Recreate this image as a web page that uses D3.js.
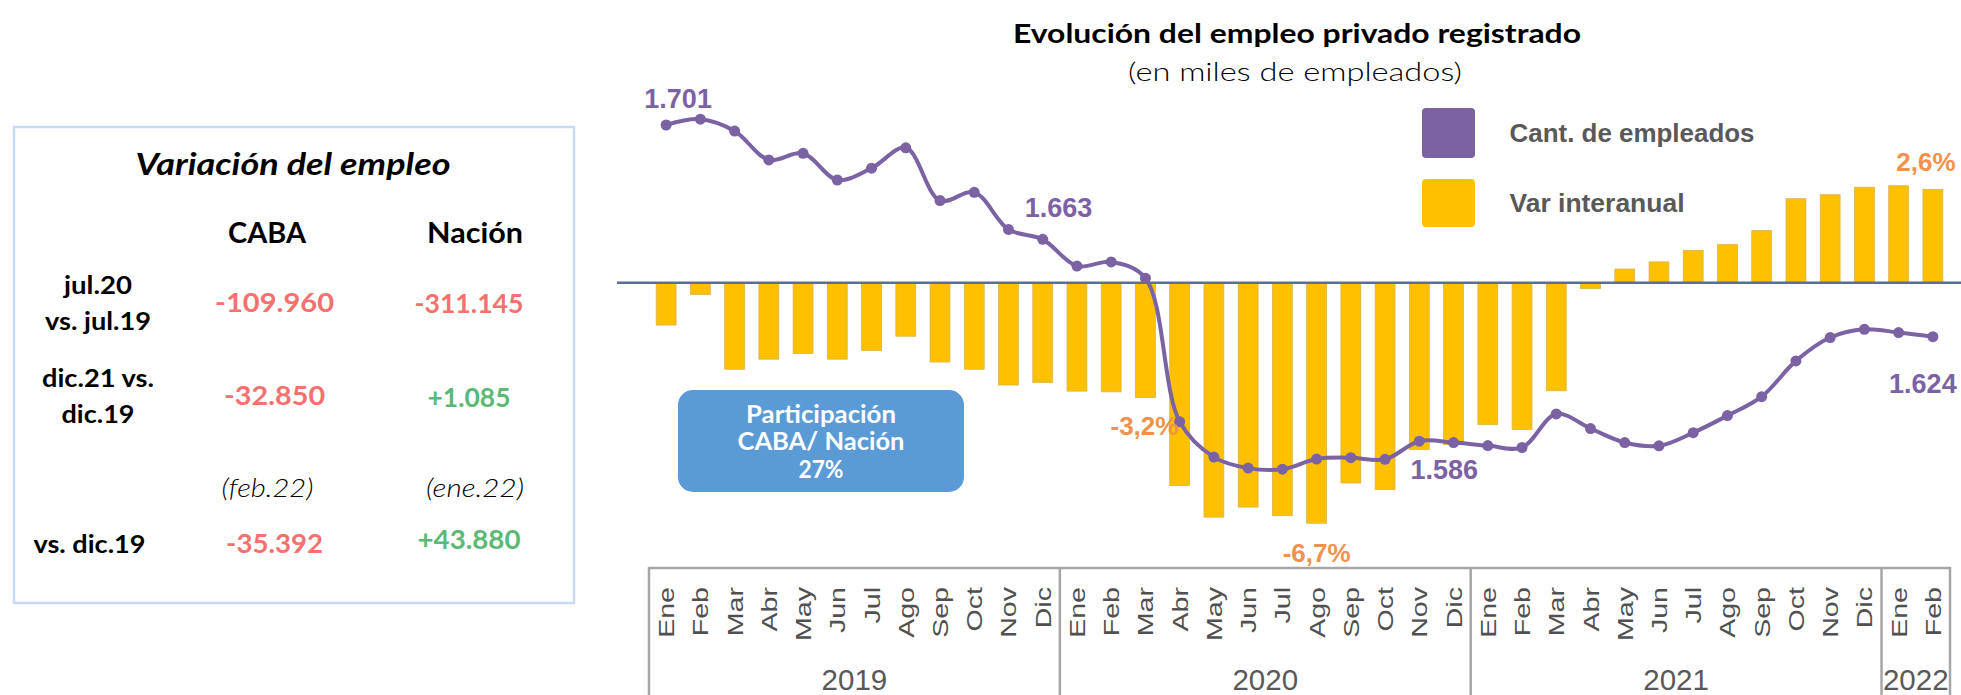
<!DOCTYPE html>
<html>
<head>
<meta charset="utf-8">
<title>Evolución del empleo privado registrado</title>
<script src="https://d3js.org/d3.v7.min.js"></script>
<style>
  body { margin: 0; background: #fff; }
  svg { display: block; }
  .ral { font-family: Lato, "Open Sans", sans-serif; }
  .xl { font-family: "Liberation Sans", Arial, sans-serif; }
</style>
</head>
<body>
<script>
// datos
const meses = ["Ene","Feb","Mar","Abr","May","Jun","Jul","Ago","Sep","Oct","Nov","Dic",
               "Ene","Feb","Mar","Abr","May","Jun","Jul","Ago","Sep","Oct","Nov","Dic",
               "Ene","Feb","Mar","Abr","May","Jun","Jul","Ago","Sep","Oct","Nov","Dic",
               "Ene","Feb"];
const anios = ["2019", "2020", "2021", "2022"];
const mesesPorAnio = [12, 12, 12, 2];

// cantidad de empleados (miles)
const empleados = [1701, 1703.1, 1698.8, 1688.3, 1690.7, 1681, 1685.3, 1692.7, 1673.5, 1676.5, 1663, 1659.4,
                   1649.7, 1651.2, 1645.3, 1593.1, 1580.2, 1576.2, 1575.8, 1579.5, 1580, 1579.4, 1586, 1585.5,
                   1584.4, 1583.7, 1595.9, 1590.6, 1585.5, 1584.3, 1589.1, 1595.3, 1602.2, 1615.2, 1623.7, 1626.7,
                   1625.5, 1624];
// variacion interanual (%)
const varInteranual = [-1.18, -0.33, -2.41, -2.13, -1.97, -2.13, -1.89, -1.49, -2.21, -2.41, -2.85, -2.78,
                       -3.02, -3.04, -3.2, -5.65, -6.53, -6.25, -6.49, -6.7, -5.58, -5.76, -4.65, -4.51,
                       -3.95, -4.09, -3.01, -0.16, 0.38, 0.58, 0.9, 1.06, 1.45, 2.34, 2.45, 2.66,
                       2.7, 2.6];

const etiquetasEmpleo = [{i: 0, t: "1.701"}, {i: 10, t: "1.663"}, {i: 22, t: "1.586"}, {i: 37, t: "1.624"}];
const etiquetasVar = [{i: 14, t: "-3,2%"}, {i: 19, t: "-6,7%"}, {i: 37, t: "2,6%"}];

// tabla de la izquierda
const tablaFilas = [["jul.20", "vs. jul.19"], ["dic.21 vs.", "dic.19"], ["vs. dic.19"]];
const tablaCABA = ["-109.960", "-32.850", "-35.392"];
const tablaNacion = ["-311.145", "+1.085", "+43.880"];
const tablaPeriodo = ["(feb.22)", "(ene.22)"];
const participacion = ["Participación", "CABA/ Nación", "27%"];

const violeta = "#7b62a3";
const amarillo = "#ffc000";
const naranja = "#f0924c";
const gris = "#595959";

// anchos medidos de los textos (la fuente original es mas ancha)
const anchos = {
  "Variación del empleo": 315, "CABA": 78, "Nación": 96,
  "jul.20": 68, "vs. jul.19": 106, "dic.21 vs.": 112, "dic.19": 73, "vs. dic.19": 112,
  "-109.960": 119, "-32.850": 101, "-35.392": 97,
  "-311.145": 109, "+1.085": 83, "+43.880": 103,
  "(feb.22)": 92, "(ene.22)": 98,
  "Participación": 150, "CABA/ Nación": 167, "27%": 45
};
const ajustar = sel => sel
  .attr("textLength", d => anchos[d])
  .attr("lengthAdjust", "spacingAndGlyphs");

const svg = d3.select("body").append("svg")
  .attr("width", 1961)
  .attr("height", 695);

// ---------- escalas ----------
const x = d3.scaleBand()
  .domain(d3.range(meses.length))
  .range([649, 1950])
  .paddingInner(0.42)
  .paddingOuter(0.21);
const cx = i => x(i) + x.bandwidth() / 2;
const borde = i => x.range()[0] + i * x.step();

const yVar = d3.scaleLinear().domain([-7, 3]).range([534, 175]);
const yEmp = d3.scaleLinear().domain([1701, 1624]).range([125, 336.7]);

// ---------- barras ----------
svg.append("g").selectAll("rect")
  .data(varInteranual)
  .join("rect")
  .attr("x", (d, i) => x(i))
  .attr("width", x.bandwidth())
  .attr("y", d => Math.min(yVar(d), yVar(0)))
  .attr("height", d => Math.abs(yVar(d) - yVar(0)))
  .attr("fill", amarillo)
  .attr("stroke", "#d9b34a")
  .attr("stroke-width", 0.8);

// linea del cero
svg.append("line")
  .attr("x1", 617).attr("x2", 1961)
  .attr("y1", yVar(0)).attr("y2", yVar(0))
  .attr("stroke", "#5a6f97")
  .attr("stroke-width", 2.5);

// ---------- linea de empleados ----------
const linea = d3.line()
  .x((d, i) => cx(i))
  .y(d => yEmp(d))
  .curve(d3.curveCatmullRom);

svg.append("path")
  .datum(empleados)
  .attr("d", linea)
  .attr("fill", "none")
  .attr("stroke", violeta)
  .attr("stroke-width", 4);

svg.append("g").selectAll("circle")
  .data(empleados)
  .join("circle")
  .attr("cx", (d, i) => cx(i))
  .attr("cy", d => yEmp(d))
  .attr("r", 5.5)
  .attr("fill", violeta);

// etiquetas de la linea
const offEmp = {0: [12, -17], 10: [50, -12], 22: [25, 38], 37: [-10, 56]};
svg.append("g").selectAll("text")
  .data(etiquetasEmpleo)
  .join("text")
  .attr("class", "xl")
  .attr("x", d => cx(d.i) + offEmp[d.i][0])
  .attr("y", d => yEmp(empleados[d.i]) + offEmp[d.i][1])
  .attr("text-anchor", "middle")
  .attr("font-size", 27)
  .attr("font-weight", "bold")
  .attr("fill", violeta)
  .text(d => d.t);

// etiquetas de las barras
const offVar = {14: [-1, 37], 19: [0, 39], 37: [-7, -18]};
svg.append("g").selectAll("text")
  .data(etiquetasVar)
  .join("text")
  .attr("class", "xl")
  .attr("x", d => cx(d.i) + offVar[d.i][0])
  .attr("y", d => yVar(varInteranual[d.i]) + offVar[d.i][1])
  .attr("text-anchor", "middle")
  .attr("font-size", 26)
  .attr("font-weight", "bold")
  .attr("fill", naranja)
  .text(d => d.t);

// ---------- eje de meses / años ----------
const eje = svg.append("g");
eje.append("line")
  .attr("x1", borde(0)).attr("x2", borde(meses.length))
  .attr("y1", 568).attr("y2", 568)
  .attr("stroke", "#a6a6a6").attr("stroke-width", 2.5);

const cortes = [0];
mesesPorAnio.forEach(n => cortes.push(cortes[cortes.length - 1] + n));
eje.selectAll("line.sep")
  .data(cortes)
  .join("line")
  .attr("class", "sep")
  .attr("x1", d => borde(d)).attr("x2", d => borde(d))
  .attr("y1", 567).attr("y2", 695)
  .attr("stroke", "#a6a6a6").attr("stroke-width", 2.5);

eje.selectAll("text.mes")
  .data(meses)
  .join("text")
  .attr("class", "mes xl")
  .attr("transform", (d, i) => `translate(${cx(i) + 8},587) rotate(-90) scale(1.3,1)`)
  .attr("text-anchor", "end")
  .attr("font-size", 22)
  .attr("fill", "#505050")
  .text(d => d);

eje.selectAll("text.anio")
  .data(anios)
  .join("text")
  .attr("class", "anio xl")
  .attr("x", (d, k) => (borde(cortes[k]) + borde(cortes[k + 1])) / 2)
  .attr("y", 690)
  .attr("text-anchor", "middle")
  .attr("font-size", 29.5)
  .attr("fill", gris)
  .text(d => d);

// ---------- titulo ----------
svg.append("text")
  .attr("class", "ral")
  .attr("x", 1297).attr("y", 43)
  .attr("text-anchor", "middle")
  .attr("font-size", 27).attr("font-weight", 700)
  .attr("textLength", 568).attr("lengthAdjust", "spacingAndGlyphs")
  .text("Evolución del empleo privado registrado");
svg.append("text")
  .attr("class", "ral")
  .attr("x", 1295).attr("y", 81)
  .attr("text-anchor", "middle")
  .attr("font-size", 26).attr("font-weight", 300)
  .attr("textLength", 334).attr("lengthAdjust", "spacingAndGlyphs")
  .text("(en miles de empleados)");

// ---------- leyenda ----------
const leyenda = [
  {t: "Cant. de empleados", c: violeta, y: 108, h: 50, w: 245},
  {t: "Var interanual", c: amarillo, y: 179, h: 48, w: 175}
];
const gl = svg.append("g");
gl.selectAll("rect")
  .data(leyenda)
  .join("rect")
  .attr("x", 1422).attr("y", d => d.y)
  .attr("width", 53).attr("height", d => d.h)
  .attr("rx", 4)
  .attr("fill", d => d.c);
gl.selectAll("text")
  .data(leyenda)
  .join("text")
  .attr("class", "xl")
  .attr("x", 1509.5).attr("y", d => d.y + d.h / 2 + 9)
  .attr("font-size", 26).attr("font-weight", "bold")
  .attr("fill", gris)
  .attr("textLength", d => d.w).attr("lengthAdjust", "spacingAndGlyphs")
  .text(d => d.t);

// ---------- recuadro participacion ----------
svg.append("rect")
  .attr("x", 678).attr("y", 390)
  .attr("width", 286).attr("height", 102)
  .attr("rx", 15)
  .attr("fill", "#5b9bd5");
svg.append("g").selectAll("text")
  .data(participacion)
  .join("text")
  .attr("class", "ral")
  .attr("x", 821)
  .attr("y", (d, k) => 423 + k * 27.3)
  .attr("text-anchor", "middle")
  .attr("font-size", 24).attr("font-weight", 700)
  .attr("fill", "#fff")
  .call(ajustar)
  .text(d => d);

// ---------- tabla variacion del empleo ----------
const tabla = svg.append("g").attr("class", "ral");
tabla.append("rect")
  .attr("x", 14).attr("y", 127)
  .attr("width", 560).attr("height", 476)
  .attr("fill", "none")
  .attr("stroke", "#c9daf8")
  .attr("stroke-width", 2.5);

tabla.append("text")
  .datum("Variación del empleo")
  .attr("x", 293).attr("y", 175)
  .attr("text-anchor", "middle")
  .attr("font-size", 30).attr("font-weight", 700).attr("font-style", "italic")
  .call(ajustar)
  .text(d => d);

tabla.selectAll("text.col")
  .data(["CABA", "Nación"])
  .join("text")
  .attr("class", "col")
  .attr("x", (d, k) => [267, 475][k]).attr("y", 243)
  .attr("text-anchor", "middle")
  .attr("font-size", 28).attr("font-weight", 700)
  .call(ajustar)
  .text(d => d);

const filaY = [[294, 330], [387, 423], [553]];
const filaX = [98, 98, 89.5];
tablaFilas.forEach((lineas, k) => {
  tabla.selectAll(null)
    .data(lineas)
    .join("text")
    .attr("x", filaX[k]).attr("y", (d, j) => filaY[k][j])
    .attr("text-anchor", "middle")
    .attr("font-size", 25).attr("font-weight", 700)
    .call(ajustar)
    .text(d => d);
});

const valorY = [[312, 313], [405, 407], [553, 549]];
const colorValor = v => v.startsWith("+") ? "#5bb974" : "#f4716e";
tablaCABA.forEach((v, k) => {
  tabla.append("text")
    .datum(v)
    .attr("x", 274.6).attr("y", valorY[k][0])
    .attr("text-anchor", "middle")
    .attr("font-size", 27).attr("font-weight", 700)
    .attr("fill", colorValor(v))
    .call(ajustar)
    .text(v);
});
tablaNacion.forEach((v, k) => {
  tabla.append("text")
    .datum(v)
    .attr("x", 469).attr("y", valorY[k][1])
    .attr("text-anchor", "middle")
    .attr("font-size", 27).attr("font-weight", 700)
    .attr("fill", colorValor(v))
    .call(ajustar)
    .text(v);
});
tabla.selectAll("text.per")
  .data(tablaPeriodo)
  .join("text")
  .attr("class", "per")
  .attr("x", (d, k) => [267.5, 475][k]).attr("y", 497)
  .attr("text-anchor", "middle")
  .attr("font-size", 26).attr("font-weight", 300).attr("font-style", "italic")
  .call(ajustar)
  .text(d => d);
</script>
</body>
</html>
